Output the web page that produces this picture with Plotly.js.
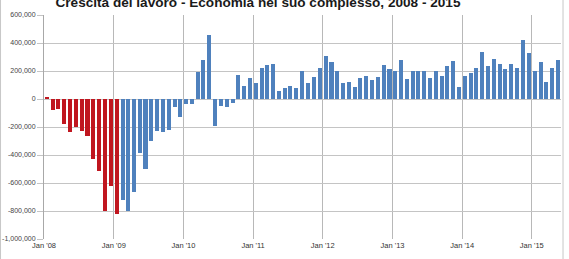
<!DOCTYPE html>
<html>
<head>
<meta charset="utf-8">
<script src="https://cdn.plot.ly/plotly-3.0.1.min.js"></script>
<style>
  html, body { margin: 0; padding: 0; background: #ffffff; }
  #chart { width: 569px; height: 259px; }
</style>
</head>
<body>
<div id="chart"></div>
<script>
// Monthly job change (total nonfarm), Jan 2008 - May 2015
var startYear = 2008;
// Jan 2008 - Jan 2009 (red)
var valuesRed = [14000, -81000, -69000, -181000, -236000, -202000, -231000, -264000, -431000, -512000, -800000, -619000, -821000];
// Feb 2009 - May 2015 (blue)
var valuesBlue = [
  -724000, -798000, -662000, -383000, -502000, -298000, -226000, -236000, -221000, -55000, -126000,
  -36000, -36000, 195000, 279000, 457000, -195000, -52000, -60000, -31000, 171000, 90000, 152000,
  112000, 219000, 245000, 248000, 56000, 81000, 93000, 81000, 200000, 112000, 155000, 219000,
  310000, 267000, 202000, 112000, 124000, 83000, 152000, 164000, 136000, 160000, 243000, 217000,
  200000, 279000, 140000, 200000, 200000, 200000, 148000, 200000, 164000, 238000, 274000, 83000,
  164000, 188000, 224000, 333000, 233000, 286000, 250000, 212000, 250000, 221000, 421000, 326000,
  200000, 267000, 119000, 221000, 279000
];
var yTickVals = [-1000000, -800000, -600000, -400000, -200000, 0, 200000, 400000, 600000];
var yTickText = ["-1,000,000", "-800,000", "-600,000", "-400,000", "-200,000", "0", "200,000", "400,000", "600,000"];
var xTickVals = ["2008-01-01", "2009-01-01", "2010-01-01", "2011-01-01", "2012-01-01", "2013-01-01", "2014-01-01", "2015-01-01"];
var xTickText = ["Jan '08", "Jan '09", "Jan '10", "Jan '11", "Jan '12", "Jan '13", "Jan '14", "Jan '15"];
var chartTitle = "Crescita del lavoro - Economia nel suo complesso, 2008 - 2015";

function monthDate(i) {
  var y = startYear + Math.floor(i / 12);
  var m = (i % 12) + 1;
  return y + "-" + (m < 10 ? "0" + m : m) + "-16";
}
var xRed = valuesRed.map(function (v, i) { return monthDate(i); });
var xBlue = valuesBlue.map(function (v, i) { return monthDate(i + valuesRed.length); });
var barW = 21 * 86400000;

var traces = [
  { type: "bar", x: xRed, y: valuesRed, width: xRed.map(function(){return barW;}),
    marker: { color: "#c0161f", line: { width: 0 } }, hoverinfo: "x+y" },
  { type: "bar", x: xBlue, y: valuesBlue, width: xBlue.map(function(){return barW;}),
    marker: { color: "#4f81bd", line: { width: 0 } }, hoverinfo: "x+y" }
];

var gridCol = "#b8b8b8";
var layout = {
  width: 569, height: 259,
  margin: { l: 44, r: 8, t: 15, b: 20, pad: 0 },
  paper_bgcolor: "#ffffff", plot_bgcolor: "#ffffff",
  showlegend: false,
  font: { family: "Liberation Sans, Arial, sans-serif", color: "#444" },
  title: {
    text: "<b>" + chartTitle + "</b>",
    font: { family: "Liberation Sans, Arial, sans-serif", size: 13.6, color: "#1a1a1a" },
    x: 0.4534, xref: "container", xanchor: "center",
    y: 0.99, yref: "container", yanchor: "middle"
  },
  xaxis: {
    type: "date", range: ["2008-01-01", "2015-06-03"],
    tickmode: "array", tickvals: xTickVals, ticktext: xTickText,
    showgrid: true, gridcolor: gridCol, gridwidth: 1,
    zeroline: false, showline: false, ticks: "",
    tickfont: { size: 7.5, color: "#333" }, fixedrange: true
  },
  yaxis: {
    range: [-1000000, 600000],
    tickmode: "array", tickvals: yTickVals, ticktext: yTickText,
    showgrid: true, gridcolor: "#c4c4c4", gridwidth: 1,
    zeroline: false, showline: true, linecolor: "#a8a8a8", linewidth: 1,
    ticks: "outside", ticklen: 6, tickcolor: "#c4c4c4", tickwidth: 1,
    tickfont: { size: 7, color: "#444" }, fixedrange: true
  },
  bargap: 0,
  shapes: [
    { type: "line", xref: "paper", yref: "paper", x0: -0.0841, x1: -0.0841, y0: -0.1, y1: 1.1,
      line: { color: "#c8c8c8", width: 1 } },
    { type: "line", xref: "paper", yref: "paper", x0: 1.0039, x1: 1.0039, y0: -0.1, y1: 1.1,
      line: { color: "#c8c8c8", width: 1 } }
  ]
};

Plotly.newPlot("chart", traces, layout, { displayModeBar: false, staticPlot: true });
</script>
</body>
</html>
